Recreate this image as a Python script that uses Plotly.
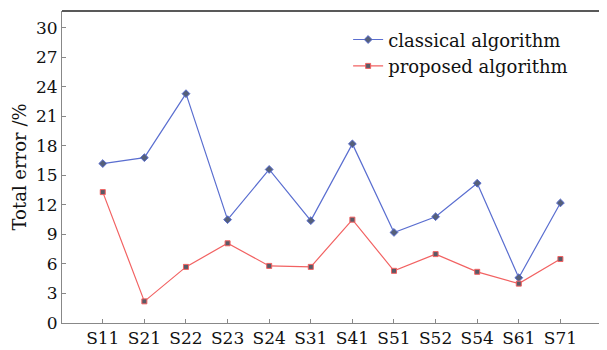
import plotly.graph_objects as go

categories = ["S11", "S21", "S22", "S23", "S24", "S31", "S41", "S51", "S52", "S54", "S61", "S71"]
classical = [16.2, 16.8, 23.3, 10.5, 15.6, 10.4, 18.2, 9.2, 10.8, 14.2, 4.6, 12.2]
proposed = [13.3, 2.2, 5.7, 8.1, 5.8, 5.7, 10.5, 5.3, 7.0, 5.2, 4.0, 6.5]
yticks = [0, 3, 6, 9, 12, 15, 18, 21, 24, 27, 30]

FONT = "DejaVu Serif"
x_idx = list(range(len(categories)))

fig = go.Figure()
fig.add_trace(go.Scatter(
    x=x_idx, y=classical, name="classical algorithm", mode="lines+markers",
    line=dict(color="#5a6ed0", width=1.2),
    marker=dict(symbol="diamond", size=6, color="#55607a", line=dict(color="#5a6ed0", width=1)),
))
fig.add_trace(go.Scatter(
    x=x_idx, y=proposed, name="proposed algorithm", mode="lines+markers",
    line=dict(color="#f26262", width=1.2),
    marker=dict(symbol="square", size=5, color="#5a5a66", line=dict(color="#f26262", width=1)),
))

# page body adds an 8px offset; compensate in size and margins
fig.update_layout(
    width=599, height=342,
    margin=dict(l=54, r=0, t=3, b=27, autoexpand=False),
    plot_bgcolor="white", paper_bgcolor="white",
    font=dict(family=FONT, size=17, color="#111111"),
    showlegend=True,
    legend=dict(x=0.525, y=0.967, xanchor="left", yanchor="top",
                bgcolor="rgba(0,0,0,0)", font=dict(family=FONT, size=18),
                tracegroupgap=0, itemwidth=30),
    xaxis=dict(
        range=[-0.98, 12.12], tickmode="array", tickvals=x_idx, ticktext=categories,
        showgrid=False, zeroline=False, showline=True, linecolor="#888888", linewidth=1,
        ticks="inside", ticklen=4, tickcolor="#888888",
        tickfont=dict(family=FONT, size=17), automargin=False,
    ),
    yaxis=dict(
        range=[0, 31.7], tickmode="array", tickvals=yticks,
        showgrid=False, zeroline=False, showline=True, linecolor="#888888", linewidth=1,
        ticks="inside", ticklen=4, tickcolor="#888888",
        tickfont=dict(family=FONT, size=17), automargin=False,
        title=dict(text="Total error /%", font=dict(family=FONT, size=18), standoff=4),
    ),
    shapes=[dict(type="line", xref="paper", yref="paper", x0=0, x1=1, y0=1, y1=1,
                 line=dict(color="#222222", width=1.5))],
)

fig.write_html("out.html")
